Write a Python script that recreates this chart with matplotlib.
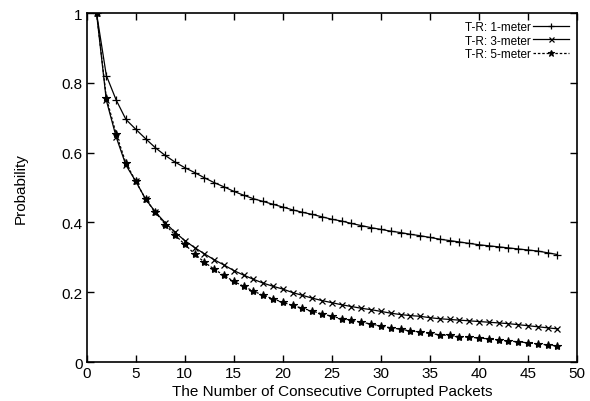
import matplotlib
matplotlib.use('Agg')
import matplotlib.pyplot as plt

plt.rcParams['font.family'] = ['Liberation Sans Narrow', 'Liberation Sans', 'DejaVu Sans']

packets = list(range(1, 49))

one_meter = [1.0, 0.821, 0.751, 0.695, 0.667, 0.640, 0.614, 0.592, 0.573, 0.557,
             0.543, 0.528, 0.514, 0.502, 0.489, 0.478, 0.468, 0.460, 0.452, 0.444,
             0.436, 0.429, 0.423, 0.416, 0.409, 0.404, 0.397, 0.391, 0.385, 0.380,
             0.375, 0.371, 0.366, 0.362, 0.357, 0.352, 0.348, 0.344, 0.340, 0.336,
             0.333, 0.330, 0.327, 0.324, 0.321, 0.318, 0.313, 0.308]

three_meter = [1.0, 0.750, 0.645, 0.564, 0.518, 0.467, 0.430, 0.399, 0.372, 0.348,
               0.328, 0.310, 0.293, 0.278, 0.262, 0.249, 0.237, 0.226, 0.217, 0.209,
               0.199, 0.191, 0.183, 0.176, 0.170, 0.164, 0.159, 0.154, 0.150, 0.145,
               0.140, 0.136, 0.133, 0.131, 0.127, 0.124, 0.122, 0.120, 0.118, 0.116,
               0.114, 0.112, 0.110, 0.107, 0.104, 0.101, 0.098, 0.095]

five_meter = [1.0, 0.757, 0.654, 0.570, 0.518, 0.467, 0.429, 0.394, 0.364, 0.337,
              0.310, 0.286, 0.266, 0.248, 0.231, 0.217, 0.203, 0.191, 0.181, 0.171,
              0.162, 0.154, 0.146, 0.138, 0.131, 0.124, 0.119, 0.114, 0.109, 0.103,
              0.098, 0.094, 0.089, 0.086, 0.082, 0.078, 0.076, 0.073, 0.071, 0.069,
              0.066, 0.063, 0.060, 0.058, 0.055, 0.052, 0.049, 0.046]

x_ticks = list(range(0, 51, 5))
y_ticks = [0, 0.2, 0.4, 0.6, 0.8, 1]
y_labels = ['0', '0.2', '0.4', '0.6', '0.8', '1']

fig = plt.figure(figsize=(5.9, 4.02), dpi=100)
ax = fig.add_axes([0.147, 0.097, 0.831, 0.868])

ax.plot(packets, one_meter, color='black', lw=0.9, marker='+', ms=6, mew=0.9,
        label='T-R: 1-meter')
ax.plot(packets, three_meter, color='black', lw=0.9, marker='x', ms=4.5, mew=0.9,
        label='T-R: 3-meter')
ax.plot(packets, five_meter, color='black', lw=0.9, ls=(0, (2, 1.5)), marker='*',
        ms=6, mew=0.8, label='T-R: 5-meter')

ax.set_xlim(0, 50)
ax.set_ylim(0, 1)
ax.set_xticks(x_ticks)
ax.set_yticks(y_ticks)
ax.set_yticklabels(y_labels)
ax.tick_params(direction='in', top=True, right=True, length=5, width=1,
               labelsize=11, pad=3)
for s in ax.spines.values():
    s.set_linewidth(1.2)

ax.set_xlabel('The Number of Consecutive Corrupted Packets', fontsize=11, labelpad=3)
ax.set_ylabel('Probability', fontsize=11, labelpad=24)

ax.legend(loc='upper right', frameon=False, markerfirst=False, fontsize=8.5,
          handlelength=3.0, handletextpad=0.2, labelspacing=0.1,
          borderaxespad=0.3, borderpad=0.4, markerscale=0.8)

fig.savefig('out.png', dpi=100)
